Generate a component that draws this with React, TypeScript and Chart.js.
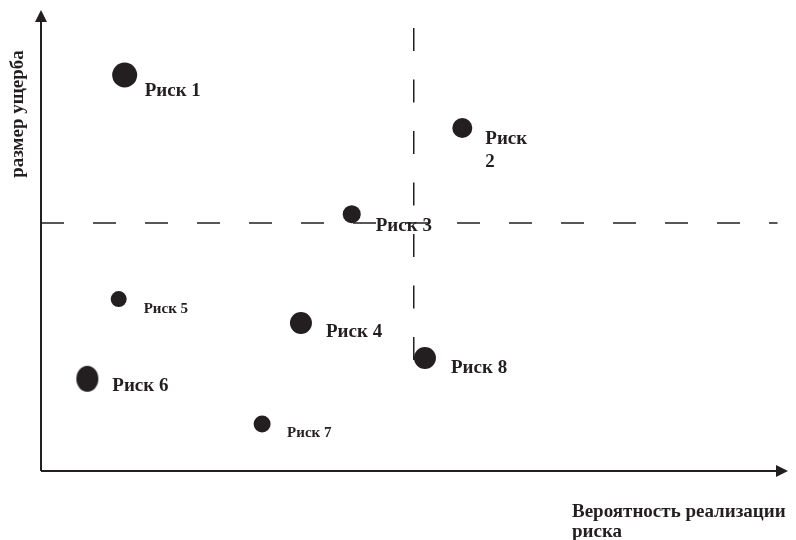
import React, { useEffect, useRef } from "react";
import { Chart, registerables } from "chart.js";

Chart.register(...registerables);

// ---- data ----
const riskLabels = ["Риск 1", "Риск 2", "Риск 3", "Риск 4", "Риск 5", "Риск 6", "Риск 7", "Риск 8"];
const probability = [11.2, 56.4, 41.6, 34.8, 10.4, 6.2, 29.6, 51.4];
const damage = [85.9, 74.4, 55.7, 32.1, 37.3, 20.0, 10.2, 24.5];
const pointSizes = [12.5, 10, 9, 11, 8, 11.5, 8.5, 11];
const labelFontSizes = [19, 19, 19, 19, 15, 19, 15, 19];
const labelLines: string[][] = [["Риск 1"], ["Риск", "2"], ["Риск 3"], ["Риск 4"], ["Риск 5"], ["Риск 6"], ["Риск 7"], ["Риск 8"]];
// label offsets from the point centre (px): [dx, dy to baseline]
const labelOffsets = [[20, 21], [23, 16], [24, 17], [25, 14], [25, 14], [25, 12], [25, 13], [26, 15]];

const hLineY = 53.8;
const hLineX = [0, 98.6];
const vLineX = 49.9;
const vLineY = [24.1, 96.3];

const xTitle = ["Вероятность реализации", "риска"];
const yTitle = "размер ущерба";

const INK = "#231f20";
const FONT = "'Liberation Serif', 'Times New Roman', serif";

function ellipseStyle(rx: number, ry: number): HTMLCanvasElement {
  const c = document.createElement("canvas");
  c.width = rx * 2 + 2;
  c.height = ry * 2 + 2;
  const g = c.getContext("2d")!;
  g.fillStyle = INK;
  g.beginPath();
  g.ellipse(rx + 1, ry + 1, rx, ry, 0, 0, Math.PI * 2);
  g.fill();
  return c;
}

const decorPlugin = {
  id: "decor",
  beforeDatasetsDraw(chart: any) {
    const { ctx, chartArea } = chart;
    const { left, right, top, bottom } = chartArea;
    ctx.save();
    ctx.strokeStyle = INK;
    ctx.fillStyle = INK;
    ctx.lineWidth = 2;
    // y axis
    ctx.beginPath();
    ctx.moveTo(left, bottom);
    ctx.lineTo(left, top + 10);
    ctx.stroke();
    ctx.beginPath();
    ctx.moveTo(left, top);
    ctx.lineTo(left - 6, top + 12);
    ctx.lineTo(left + 6, top + 12);
    ctx.closePath();
    ctx.fill();
    // x axis
    ctx.beginPath();
    ctx.moveTo(left, bottom);
    ctx.lineTo(right - 10, bottom);
    ctx.stroke();
    ctx.beginPath();
    ctx.moveTo(right, bottom);
    ctx.lineTo(right - 12, bottom - 6);
    ctx.lineTo(right - 12, bottom + 6);
    ctx.closePath();
    ctx.fill();

    // titles
    ctx.font = `bold 19px ${FONT}`;
    ctx.textAlign = "left";
    ctx.textBaseline = "alphabetic";
    xTitle.forEach((t, i) => ctx.fillText(t, 572, 517 + i * 20));
    ctx.translate(23, 114);
    ctx.rotate(-Math.PI / 2);
    ctx.textAlign = "center";
    ctx.fillText(yTitle, 0, 0);
    ctx.restore();
  },
  afterDatasetsDraw(chart: any) {
    const { ctx } = chart;
    const meta = chart.getDatasetMeta(2);
    ctx.save();
    ctx.fillStyle = INK;
    ctx.textAlign = "left";
    ctx.textBaseline = "alphabetic";
    meta.data.forEach((pt: any, i: number) => {
      ctx.font = `bold ${labelFontSizes[i]}px ${FONT}`;
      const [dx, dy] = labelOffsets[i];
      labelLines[i].forEach((line, j) => {
        ctx.fillText(line, pt.x + dx, pt.y + dy + j * 23);
      });
    });
    ctx.restore();
  },
};

export default function App() {
  const ref = useRef<HTMLCanvasElement | null>(null);
  useEffect(() => {
    if (!ref.current) return;
    const styles = pointSizes.map((r, i) => (i === 5 ? ellipseStyle(11, 13) : "circle"));
    const chart = new Chart(ref.current, {
      type: "scatter",
      data: {
        datasets: [
          {
            label: "h",
            data: hLineX.map((x) => ({ x, y: hLineY })),
            showLine: true,
            borderColor: INK,
            borderWidth: 1.5,
            borderDash: [23, 29],
            pointRadius: 0,
          },
          {
            label: "v",
            data: vLineY.map((y) => ({ x: vLineX, y })),
            showLine: true,
            borderColor: INK,
            borderWidth: 1.5,
            borderDash: [23, 28.5],
            pointRadius: 0,
          },
          {
            label: riskLabels.join(", "),
            data: probability.map((x, i) => ({ x, y: damage[i] })),
            backgroundColor: INK,
            borderColor: INK,
            borderWidth: 0,
            pointRadius: pointSizes,
            pointStyle: styles as any,
            clip: false as any,
          },
        ],
      },
      options: {
        animation: false,
        responsive: false,
        devicePixelRatio: 1,
        layout: { autoPadding: false, padding: { left: 41, right: 8, top: 10, bottom: 69 } },
        scales: {
          x: { type: "linear", min: 0, max: 100, display: false },
          y: { type: "linear", min: 0, max: 100, display: false },
        },
        plugins: { legend: { display: false }, tooltip: { enabled: false } },
      },
      plugins: [decorPlugin],
    });
    return () => chart.destroy();
  }, []);
  return (
    <div style={{ position: "absolute", left: 0, top: 0, width: 796, height: 540, background: "#fff" }}>
      <canvas ref={ref} width={796} height={540} />
    </div>
  );
}
